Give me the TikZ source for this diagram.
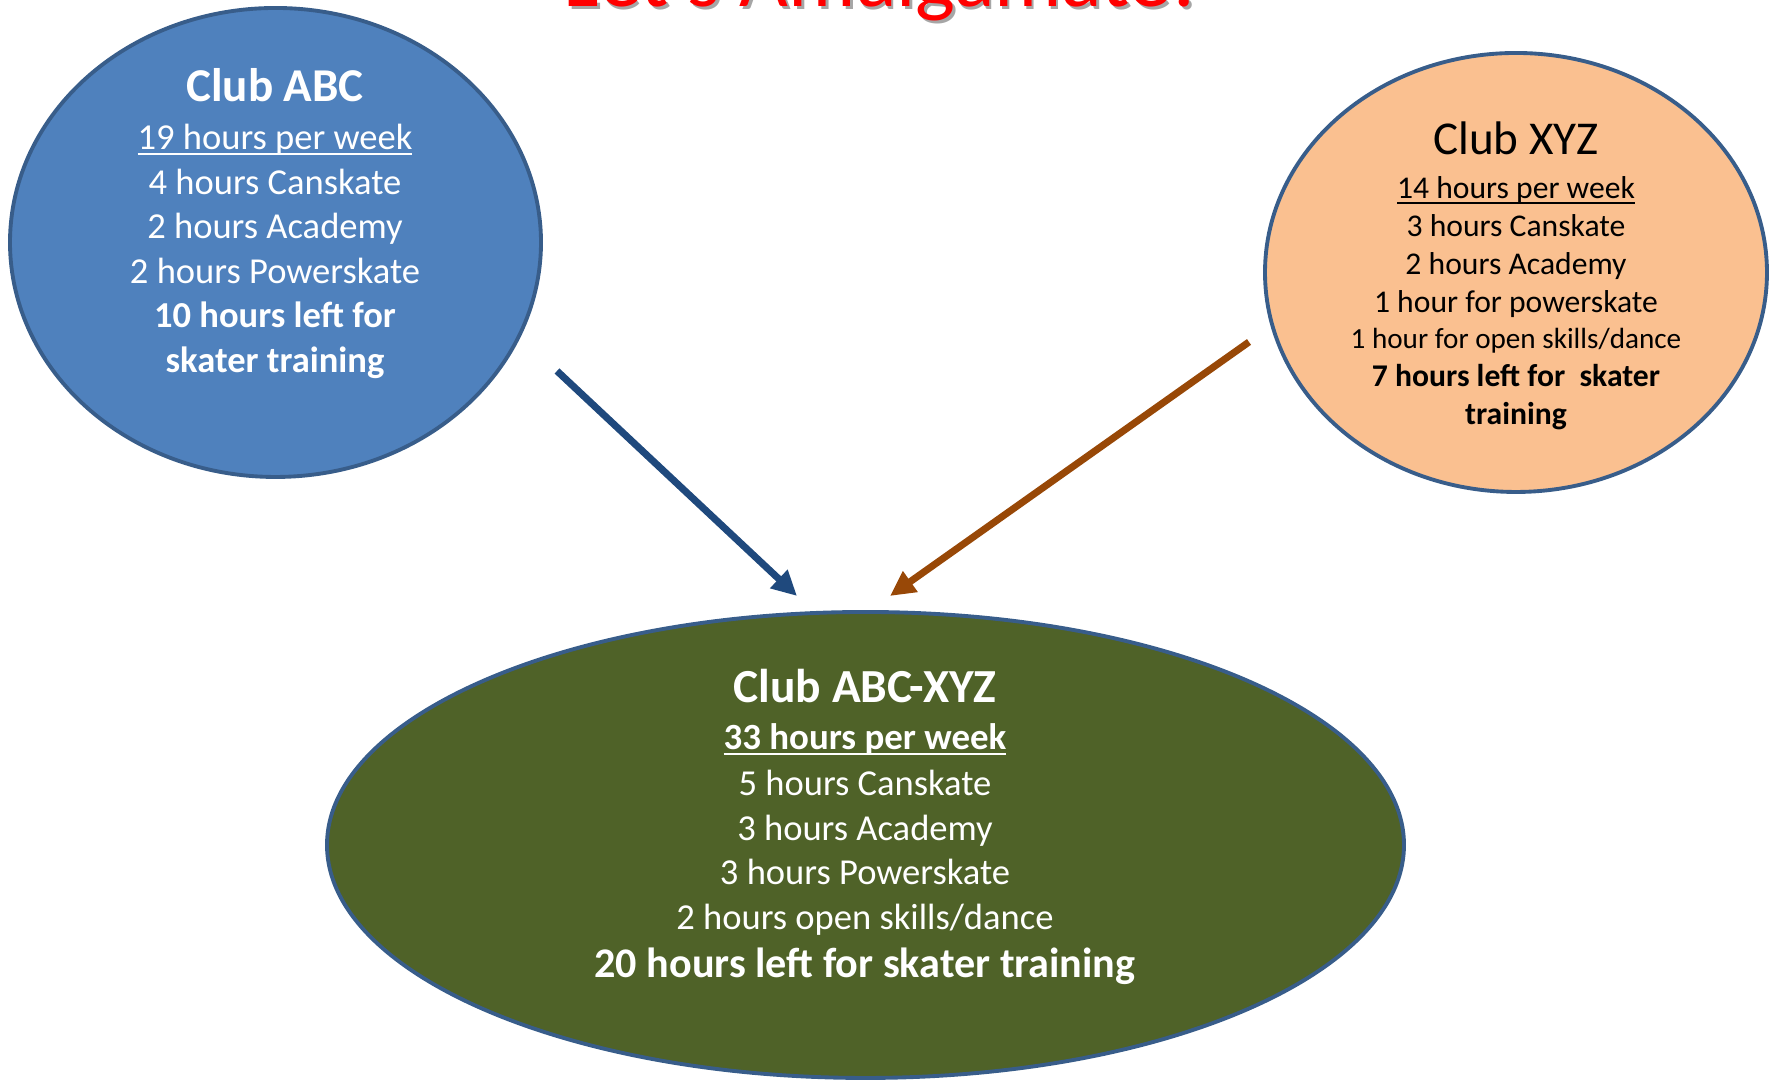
\documentclass[tikz,border=0pt]{standalone}
\usepackage{fontspec}
\setmainfont{Carlito}
\usetikzlibrary{shapes.geometric,arrows.meta}

\definecolor{abcblue}{HTML}{4F81BD}
\definecolor{xyzorange}{HTML}{FAC090}
\definecolor{mergegreen}{HTML}{4F6228}
\definecolor{clubedge}{HTML}{385D8A}
\definecolor{abcarrow}{HTML}{1F497D}
\definecolor{xyzarrow}{HTML}{984807}

% underline just under the baseline
\newcommand{\underhours}[1]{\setbox0\hbox{#1}\rlap{\rule[-1.4pt]{\wd0}{0.6pt}}\box0}

\begin{document}
\begin{tikzpicture}[
  club/.style={ellipse, draw=clubedge, line width=1.1pt, inner sep=0pt},
  line/.style={anchor=base, inner sep=0pt},
  big/.style={line, font=\fontsize{13.4}{16}\selectfont},
  body/.style={line, font=\fontsize{10.4}{12.5}\selectfont},
  small/.style={line, font=\fontsize{9}{11}\selectfont},
  joins/.style={line width=2pt, -{Triangle[length=0.25cm,width=0.24cm]}}
]
\useasboundingbox (0,0) rectangle (17.74,10.81);
\clip (0,0) rectangle (17.74,10.81);

% title, only its lower part shows
\node[line, text=gray!70, font=\fontsize{24}{28}\selectfont] (titleshadow) at (8.835,10.715) {Let's Amalgamate!};
\node[line, text=red, font=\fontsize{24}{28}\selectfont] (title) at (8.81,10.74) {Let's Amalgamate!};

% the three clubs
\node[club, fill=abcblue, minimum width=5.31cm, minimum height=4.69cm] (abc) at (2.755,8.385) {};
\node[club, fill=xyzorange, minimum width=5.02cm, minimum height=4.39cm] (xyz) at (15.16,8.085) {};
\node[club, fill=mergegreen, minimum width=10.77cm, minimum height=4.66cm] (abcxyz) at (8.655,2.36) {};

% Club ABC
\begin{scope}[text=white]
\node[big, font=\fontsize{13.4}{16}\bfseries] (abc-name) at (2.75,9.79) {Club ABC};
\node[body] (abc-total) at (2.75,9.31) {\underhours{19 hours per week}};
\node[body] (abc-can) at (2.75,8.865) {4 hours Canskate};
\node[body] (abc-acad) at (2.75,8.42) {2 hours Academy};
\node[body] (abc-power) at (2.75,7.975) {2 hours Powerskate};
\node[body, font=\fontsize{10.4}{12.5}\bfseries] (abc-left) at (2.75,7.53) {10 hours left for};
\node[body, font=\fontsize{10.4}{12.5}\bfseries] (abc-left2) at (2.75,7.085) {skater training};
\end{scope}

% Club XYZ
\node[big] (xyz-name) at (15.16,9.26) {Club XYZ};
\node[small] (xyz-total) at (15.16,8.82) {\underhours{14 hours per week}};
\node[small] (xyz-can) at (15.16,8.44) {3 hours Canskate};
\node[small] (xyz-acad) at (15.16,8.06) {2 hours Academy};
\node[small] (xyz-power) at (15.16,7.68) {1 hour for powerskate};
\node[small, font=\fontsize{8.3}{10}\selectfont] (xyz-open) at (15.16,7.32) {1 hour for open skills/dance};
\node[small, font=\fontsize{9}{11}\bfseries] (xyz-left) at (15.16,6.94) {7 hours left for~ skater};
\node[small, font=\fontsize{9}{11}\bfseries] (xyz-left2) at (15.16,6.56) {training};

% Club ABC-XYZ
\begin{scope}[text=white]
\node[big, font=\fontsize{13.5}{16}\bfseries] (abcxyz-name) at (8.65,3.78) {Club ABC-XYZ};
\node[body, font=\fontsize{10.5}{12.5}\bfseries] (abcxyz-total) at (8.65,3.31) {\underhours{33 hours per week}};
\node[body] (abcxyz-can) at (8.65,2.85) {5 hours Canskate};
\node[body] (abcxyz-acad) at (8.65,2.40) {3 hours Academy};
\node[body] (abcxyz-power) at (8.65,1.96) {3 hours Powerskate};
\node[body] (abcxyz-open) at (8.65,1.51) {2 hours open skills/dance};
\node[body, font=\fontsize{12}{14}\bfseries] (abcxyz-left) at (8.65,1.03) {20 hours left for skater training};
\end{scope}

% arrows into the merged club
\coordinate (abc-out) at (5.57,7.10);
\coordinate (abcxyz-inl) at (7.97,4.85);
\coordinate (xyz-out) at (12.49,7.39);
\coordinate (abcxyz-inr) at (8.90,4.85);
\draw[joins, abcarrow] (abc-out) -- (abcxyz-inl);
\draw[joins, xyzarrow] (xyz-out) -- (abcxyz-inr);
\end{tikzpicture}
\end{document}
